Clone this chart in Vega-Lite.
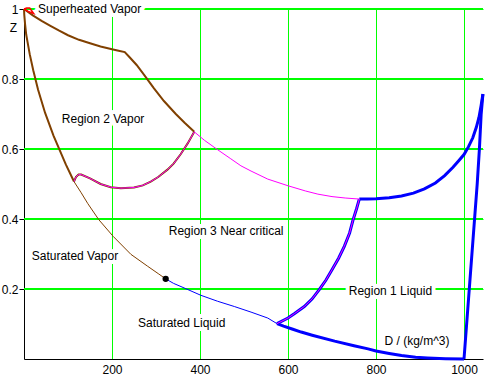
{
  "$schema": "https://vega.github.io/schema/vega-lite/v6.json",
  "width": 459,
  "height": 350,
  "autosize": {"type": "none"},
  "padding": {"left": 24, "top": 9, "right": 6, "bottom": 24},
  "background": "white",
  "config": {
    "view": {"stroke": null},
    "axis": {
      "domainColor": "black",
      "domainWidth": 1,
      "tickColor": "black",
      "labelColor": "black",
      "labelFont": "Liberation Sans",
      "labelFontSize": 12,
      "labelFlush": false,
      "labelOverlap": false,
      "titleFont": "Liberation Sans",
      "titleFontSize": 12,
      "titleFontWeight": "normal",
      "titleColor": "black"
    },
    "axisY": {"grid": true, "gridColor": "#00ff00", "gridOpacity": 1, "gridWidth": 1},
    "axisX": {"grid": false}
  },
  "datasets": {
    "gx": [{"d": 200}, {"d": 400}, {"d": 600}, {"d": 800}, {"d": 1000}],
    "gy": [{"z": 0.2}, {"z": 0.4}, {"z": 0.6}, {"z": 0.8}, {"z": 1.0}],
    "c": [
      {"s":"r2_upper","i":0,"d":0,"z":1.0},
      {"s":"r2_upper","i":1,"d":20,"z":0.982},
      {"s":"r2_upper","i":2,"d":40,"z":0.966},
      {"s":"r2_upper","i":3,"d":60,"z":0.952},
      {"s":"r2_upper","i":4,"d":80,"z":0.938},
      {"s":"r2_upper","i":5,"d":100,"z":0.925},
      {"s":"r2_upper","i":6,"d":125,"z":0.912},
      {"s":"r2_upper","i":7,"d":150,"z":0.902},
      {"s":"r2_upper","i":8,"d":174,"z":0.893},
      {"s":"r2_upper","i":9,"d":200,"z":0.885},
      {"s":"r2_upper","i":10,"d":215,"z":0.881},
      {"s":"r2_upper","i":11,"d":229,"z":0.877},
      {"s":"r2_upper","i":12,"d":240,"z":0.862},
      {"s":"r2_upper","i":13,"d":256,"z":0.84},
      {"s":"r2_upper","i":14,"d":273,"z":0.812},
      {"s":"r2_upper","i":15,"d":295,"z":0.774},
      {"s":"r2_upper","i":16,"d":318,"z":0.737},
      {"s":"r2_upper","i":17,"d":345,"z":0.7},
      {"s":"r2_upper","i":18,"d":365,"z":0.675},
      {"s":"r2_upper","i":19,"d":387,"z":0.649},

      {"s":"sat_vap_r2","i":0,"d":0,"z":1.0},
      {"s":"sat_vap_r2","i":1,"d":0.6,"z":0.984},
      {"s":"sat_vap_r2","i":2,"d":2.5,"z":0.956},
      {"s":"sat_vap_r2","i":3,"d":5,"z":0.927},
      {"s":"sat_vap_r2","i":4,"d":8,"z":0.906},
      {"s":"sat_vap_r2","i":5,"d":13,"z":0.871},
      {"s":"sat_vap_r2","i":6,"d":21,"z":0.825},
      {"s":"sat_vap_r2","i":7,"d":32,"z":0.769},
      {"s":"sat_vap_r2","i":8,"d":48,"z":0.703},
      {"s":"sat_vap_r2","i":9,"d":67,"z":0.6385},
      {"s":"sat_vap_r2","i":10,"d":95,"z":0.556},
      {"s":"sat_vap_r2","i":11,"d":113.6,"z":0.507},

      {"s":"sat_vap_r3","i":0,"d":113.6,"z":0.507},
      {"s":"sat_vap_r3","i":1,"d":130,"z":0.475},
      {"s":"sat_vap_r3","i":2,"d":145,"z":0.444},
      {"s":"sat_vap_r3","i":3,"d":170,"z":0.398},
      {"s":"sat_vap_r3","i":4,"d":203,"z":0.35},
      {"s":"sat_vap_r3","i":5,"d":243,"z":0.299},
      {"s":"sat_vap_r3","i":6,"d":281,"z":0.265},
      {"s":"sat_vap_r3","i":7,"d":305,"z":0.244},
      {"s":"sat_vap_r3","i":8,"d":322,"z":0.229},

      {"s":"b23","i":0,"d":113.6,"z":0.507},
      {"s":"b23","i":1,"d":118,"z":0.52},
      {"s":"b23","i":2,"d":124,"z":0.527},
      {"s":"b23","i":3,"d":130,"z":0.527},
      {"s":"b23","i":4,"d":150,"z":0.516},
      {"s":"b23","i":5,"d":174,"z":0.5},
      {"s":"b23","i":6,"d":197,"z":0.491},
      {"s":"b23","i":7,"d":220,"z":0.488},
      {"s":"b23","i":8,"d":250,"z":0.49},
      {"s":"b23","i":9,"d":270,"z":0.496},
      {"s":"b23","i":10,"d":288,"z":0.507},
      {"s":"b23","i":11,"d":305,"z":0.52},
      {"s":"b23","i":12,"d":326,"z":0.541},
      {"s":"b23","i":13,"d":340,"z":0.558},
      {"s":"b23","i":14,"d":356,"z":0.585},
      {"s":"b23","i":15,"d":372,"z":0.616},
      {"s":"b23","i":16,"d":387,"z":0.649},

      {"s":"r3_p100","i":0,"d":387,"z":0.649},
      {"s":"r3_p100","i":1,"d":410,"z":0.625},
      {"s":"r3_p100","i":2,"d":440,"z":0.598},
      {"s":"r3_p100","i":3,"d":470,"z":0.572},
      {"s":"r3_p100","i":4,"d":493,"z":0.552},
      {"s":"r3_p100","i":5,"d":516,"z":0.537},
      {"s":"r3_p100","i":6,"d":554,"z":0.514},
      {"s":"r3_p100","i":7,"d":600,"z":0.495},
      {"s":"r3_p100","i":8,"d":640,"z":0.48},
      {"s":"r3_p100","i":9,"d":668,"z":0.471},
      {"s":"r3_p100","i":10,"d":700,"z":0.464},
      {"s":"r3_p100","i":11,"d":730,"z":0.46},
      {"s":"r3_p100","i":12,"d":762,"z":0.457},

      {"s":"t623","i":0,"d":575,"z":0.101},
      {"s":"t623","i":1,"d":600,"z":0.117},
      {"s":"t623","i":2,"d":615,"z":0.13},
      {"s":"t623","i":3,"d":637,"z":0.15},
      {"s":"t623","i":4,"d":655,"z":0.172},
      {"s":"t623","i":5,"d":671,"z":0.198},
      {"s":"t623","i":6,"d":686,"z":0.225},
      {"s":"t623","i":7,"d":700,"z":0.255},
      {"s":"t623","i":8,"d":715,"z":0.288},
      {"s":"t623","i":9,"d":728,"z":0.322},
      {"s":"t623","i":10,"d":740,"z":0.36},
      {"s":"t623","i":11,"d":748,"z":0.398},
      {"s":"t623","i":12,"d":756,"z":0.43},
      {"s":"t623","i":13,"d":762,"z":0.457},

      {"s":"r1_p100","i":0,"d":762,"z":0.457},
      {"s":"r1_p100","i":1,"d":780,"z":0.457},
      {"s":"r1_p100","i":2,"d":800,"z":0.458},
      {"s":"r1_p100","i":3,"d":830,"z":0.461},
      {"s":"r1_p100","i":4,"d":858,"z":0.466},
      {"s":"r1_p100","i":5,"d":885,"z":0.474},
      {"s":"r1_p100","i":6,"d":910,"z":0.486},
      {"s":"r1_p100","i":7,"d":935,"z":0.503},
      {"s":"r1_p100","i":8,"d":956,"z":0.524},
      {"s":"r1_p100","i":9,"d":975,"z":0.548},
      {"s":"r1_p100","i":10,"d":987,"z":0.565},
      {"s":"r1_p100","i":11,"d":1000,"z":0.584},
      {"s":"r1_p100","i":12,"d":1010,"z":0.606},
      {"s":"r1_p100","i":13,"d":1020,"z":0.632},
      {"s":"r1_p100","i":14,"d":1028,"z":0.662},
      {"s":"r1_p100","i":15,"d":1034,"z":0.69},
      {"s":"r1_p100","i":16,"d":1039,"z":0.725},
      {"s":"r1_p100","i":17,"d":1043,"z":0.757},

      {"s":"t273","i":0,"d":1043,"z":0.757},
      {"s":"t273","i":1,"d":1039,"z":0.7},
      {"s":"t273","i":2,"d":1035,"z":0.6},
      {"s":"t273","i":3,"d":1030,"z":0.5},
      {"s":"t273","i":4,"d":1024,"z":0.4},
      {"s":"t273","i":5,"d":1018,"z":0.3},
      {"s":"t273","i":6,"d":1012,"z":0.2},
      {"s":"t273","i":7,"d":1006,"z":0.1},
      {"s":"t273","i":8,"d":1000,"z":0.0},

      {"s":"sat_liq_r1","i":0,"d":1000,"z":0.0},
      {"s":"sat_liq_r1","i":1,"d":958,"z":0.001},
      {"s":"sat_liq_r1","i":2,"d":917,"z":0.003},
      {"s":"sat_liq_r1","i":3,"d":890,"z":0.005},
      {"s":"sat_liq_r1","i":4,"d":858,"z":0.01},
      {"s":"sat_liq_r1","i":5,"d":830,"z":0.016},
      {"s":"sat_liq_r1","i":6,"d":800,"z":0.023},
      {"s":"sat_liq_r1","i":7,"d":782,"z":0.029},
      {"s":"sat_liq_r1","i":8,"d":750,"z":0.038},
      {"s":"sat_liq_r1","i":9,"d":706,"z":0.051},
      {"s":"sat_liq_r1","i":10,"d":655,"z":0.068},
      {"s":"sat_liq_r1","i":11,"d":630,"z":0.077},
      {"s":"sat_liq_r1","i":12,"d":611,"z":0.085},
      {"s":"sat_liq_r1","i":13,"d":590,"z":0.094},
      {"s":"sat_liq_r1","i":14,"d":575,"z":0.101},

      {"s":"sat_liq_r3","i":0,"d":322,"z":0.229},
      {"s":"sat_liq_r3","i":1,"d":340,"z":0.216},
      {"s":"sat_liq_r3","i":2,"d":364,"z":0.203},
      {"s":"sat_liq_r3","i":3,"d":402,"z":0.182},
      {"s":"sat_liq_r3","i":4,"d":440,"z":0.165},
      {"s":"sat_liq_r3","i":5,"d":478,"z":0.15},
      {"s":"sat_liq_r3","i":6,"d":516,"z":0.134},
      {"s":"sat_liq_r3","i":7,"d":554,"z":0.117},
      {"s":"sat_liq_r3","i":8,"d":575,"z":0.101},

      {"s":"r5","i":0,"d":0,"z":1.0},
      {"s":"r5","i":1,"d":6,"z":1.003},
      {"s":"r5","i":2,"d":13,"z":1.003},
      {"s":"r5","i":3,"d":22,"z":0.987},
      {"s":"r5","i":4,"d":11,"z":0.992},
      {"s":"r5","i":5,"d":0,"z":1.0}
    ],
    "labels": [
      {"t":"Superheated Vapor","d":32,"z":0.999},
      {"t":"Region 2 Vapor","d":86,"z":0.687},
      {"t":"Region 3 Near critical","d":329,"z":0.365},
      {"t":"Saturated Vapor","d":17.5,"z":0.294},
      {"t":"Saturated Liquid","d":259,"z":0.103},
      {"t":"Region 1 Liquid","d":738,"z":0.193}
    ],
    "crit": [
      {"d":322,"z":0.229}
    ]
  },
  "layer": [
    {
      "data": {"name": "gx"},
      "mark": {"type": "rule", "color": "#00ff00", "strokeWidth": 1, "xOffset": 0.5},
      "encoding": {
        "x": {"field": "d", "type": "quantitative", "scale": {"domain": [0, 1043.18], "nice": false, "zero": false},
          "axis": {"values": [200, 400, 600, 800, 1000], "format": "d", "grid": false, "ticks": false, "tickSize": 0, "labelPadding": 5,
            "title": "D / (kg/m^3)", "titleX": 360, "titleY": -19, "titleAlign": "left", "titleBaseline": "middle", "titleAngle": 0}}
      }
    },
    {
      "data": {"name": "gy"},
      "mark": {"type": "rule", "color": "#00ff00", "strokeWidth": 2},
      "encoding": {
        "y": {"field": "z", "type": "quantitative", "scale": {"domain": [0, 1], "nice": false, "zero": false},
          "axis": {"values": [0.2, 0.4, 0.6, 0.8, 1], "format": ".1~f", "grid": true, "gridColor": "#00ff00", "gridOpacity": 1, "gridWidth": 1,
            "ticks": true, "tickSize": 5, "labelPadding": 1,
            "title": "Z", "titleX": -11, "titleY": 18, "titleAlign": "center", "titleBaseline": "middle", "titleAngle": 0}}
      }
    },
    {
      "data": {"name": "labels"},
      "mark": {"type": "text", "align": "left", "baseline": "middle", "font": "Liberation Sans", "fontSize": 12, "fill": "white", "stroke": "white", "strokeWidth": 8, "strokeJoin": "round"},
      "encoding": {
        "x": {"field": "d", "type": "quantitative", "scale": {"domain": [0, 1043.18], "nice": false, "zero": false}},
        "y": {"field": "z", "type": "quantitative", "scale": {"domain": [0, 1], "nice": false, "zero": false}},
        "text": {"field": "t"}
      }
    },
    {
      "data": {"name": "c"},
      "transform": [{"filter": {"field": "s", "oneOf": ["r2_upper", "sat_vap_r2", "b23"]}}],
      "mark": {"type": "line", "color": "#804000", "strokeWidth": 2},
      "encoding": {
        "x": {"field": "d", "type": "quantitative", "scale": {"domain": [0, 1043.18], "nice": false, "zero": false}},
        "y": {"field": "z", "type": "quantitative", "scale": {"domain": [0, 1], "nice": false, "zero": false}},
        "detail": {"field": "s"}, "order": {"field": "i", "type": "quantitative"}
      }
    },
    {
      "data": {"name": "c"},
      "transform": [{"filter": {"field": "s", "oneOf": ["sat_vap_r3"]}}],
      "mark": {"type": "line", "color": "#804000", "strokeWidth": 1},
      "encoding": {
        "x": {"field": "d", "type": "quantitative", "scale": {"domain": [0, 1043.18], "nice": false, "zero": false}},
        "y": {"field": "z", "type": "quantitative", "scale": {"domain": [0, 1], "nice": false, "zero": false}},
        "detail": {"field": "s"}, "order": {"field": "i", "type": "quantitative"}
      }
    },
    {
      "data": {"name": "c"},
      "transform": [{"filter": {"field": "s", "oneOf": ["t623", "r1_p100", "t273", "sat_liq_r1"]}}],
      "mark": {"type": "line", "color": "#0000ff", "strokeWidth": 3},
      "encoding": {
        "x": {"field": "d", "type": "quantitative", "scale": {"domain": [0, 1043.18], "nice": false, "zero": false}},
        "y": {"field": "z", "type": "quantitative", "scale": {"domain": [0, 1], "nice": false, "zero": false}},
        "detail": {"field": "s"}, "order": {"field": "i", "type": "quantitative"}
      }
    },
    {
      "data": {"name": "c"},
      "transform": [{"filter": {"field": "s", "oneOf": ["sat_liq_r3"]}}],
      "mark": {"type": "line", "color": "#0000ff", "strokeWidth": 1},
      "encoding": {
        "x": {"field": "d", "type": "quantitative", "scale": {"domain": [0, 1043.18], "nice": false, "zero": false}},
        "y": {"field": "z", "type": "quantitative", "scale": {"domain": [0, 1], "nice": false, "zero": false}},
        "detail": {"field": "s"}, "order": {"field": "i", "type": "quantitative"}
      }
    },
    {
      "data": {"name": "c"},
      "transform": [{"filter": {"field": "s", "oneOf": ["b23", "r3_p100", "t623"]}}],
      "mark": {"type": "line", "color": "#ff00ff", "strokeWidth": 1},
      "encoding": {
        "x": {"field": "d", "type": "quantitative", "scale": {"domain": [0, 1043.18], "nice": false, "zero": false}},
        "y": {"field": "z", "type": "quantitative", "scale": {"domain": [0, 1], "nice": false, "zero": false}},
        "detail": {"field": "s"}, "order": {"field": "i", "type": "quantitative"}
      }
    },
    {
      "data": {"name": "c"},
      "transform": [{"filter": {"field": "s", "oneOf": ["r5"]}}],
      "mark": {"type": "line", "color": "#ff0000", "strokeWidth": 1.5},
      "encoding": {
        "x": {"field": "d", "type": "quantitative", "scale": {"domain": [0, 1043.18], "nice": false, "zero": false}},
        "y": {"field": "z", "type": "quantitative", "scale": {"domain": [0, 1], "nice": false, "zero": false}},
        "detail": {"field": "s"}, "order": {"field": "i", "type": "quantitative"}
      }
    },
    {
      "data": {"name": "crit"},
      "mark": {"type": "circle", "color": "black", "opacity": 1, "size": 40},
      "encoding": {
        "x": {"field": "d", "type": "quantitative", "scale": {"domain": [0, 1043.18], "nice": false, "zero": false}},
        "y": {"field": "z", "type": "quantitative", "scale": {"domain": [0, 1], "nice": false, "zero": false}}
      }
    },
    {
      "data": {"name": "labels"},
      "mark": {"type": "text", "align": "left", "baseline": "middle", "font": "Liberation Sans", "fontSize": 12, "color": "black"},
      "encoding": {
        "x": {"field": "d", "type": "quantitative", "scale": {"domain": [0, 1043.18], "nice": false, "zero": false}},
        "y": {"field": "z", "type": "quantitative", "scale": {"domain": [0, 1], "nice": false, "zero": false}},
        "text": {"field": "t"}
      }
    }
  ]
}
